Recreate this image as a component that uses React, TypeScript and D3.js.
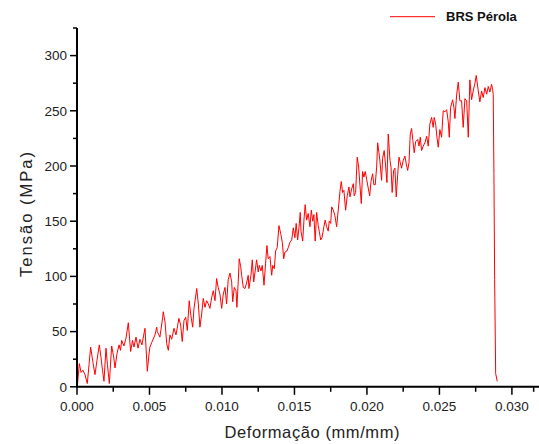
import React from "react";
import * as d3 from "d3";

const seriesName = "BRS Pérola";

const strain: number[] = [
  0.00002, 0.00016, 0.00028, 0.00041, 0.00055, 0.00071, 0.00083, 0.00094, 0.0011, 0.00124,
  0.00138, 0.00154, 0.00166, 0.00176, 0.00186, 0.002, 0.0021, 0.00223, 0.00239, 0.00252,
  0.00262, 0.00276, 0.0029, 0.003, 0.00308, 0.00324, 0.00338, 0.00354, 0.0037, 0.00383,
  0.00393, 0.00407, 0.00421, 0.00434, 0.00448, 0.00459, 0.00469, 0.00485, 0.00497, 0.00503,
  0.00515, 0.00538, 0.0055, 0.00554, 0.00572, 0.00591, 0.00595, 0.00607, 0.00619, 0.0063,
  0.00641, 0.00653, 0.00669, 0.00683, 0.00703, 0.00715, 0.00726, 0.00738, 0.0075, 0.00761,
  0.00774, 0.00784, 0.00798, 0.00807, 0.00826, 0.00837, 0.00848, 0.0086, 0.00871, 0.00883,
  0.00894, 0.00906, 0.00917, 0.00929, 0.0094, 0.00952, 0.00963, 0.00974, 0.00986, 0.00998,
  0.01009, 0.01021, 0.01032, 0.01043, 0.01055,
  0.01067, 0.01074, 0.01085, 0.01097, 0.01103, 0.01112, 0.01119, 0.01129, 0.01136, 0.01147,
  0.01159, 0.0117, 0.01181, 0.01186, 0.012, 0.01209, 0.01219, 0.01228, 0.01239, 0.0125,
  0.01257, 0.01269, 0.01278, 0.0129, 0.01301, 0.0131, 0.01319, 0.01331, 0.01343, 0.0135,
  0.01361, 0.0137, 0.01381, 0.01393, 0.01405, 0.01416, 0.01426, 0.01434, 0.01448, 0.01457,
  0.01469, 0.01481, 0.01492, 0.01503, 0.01512, 0.01522, 0.01531, 0.0154,
  0.01545, 0.01557, 0.01566, 0.01574, 0.01584, 0.01595, 0.01607, 0.01616, 0.01626, 0.01634,
  0.01643, 0.01653, 0.01664, 0.01671, 0.01681, 0.0169, 0.01703, 0.01712, 0.01722, 0.01733,
  0.0174, 0.0175, 0.01757, 0.01768, 0.01779, 0.01791, 0.01802, 0.01814, 0.01823, 0.01832,
  0.01841, 0.01853, 0.01864, 0.01876, 0.01883, 0.01894, 0.01906, 0.01912, 0.01922, 0.01933,
  0.01943, 0.01952, 0.01961, 0.0197, 0.01979, 0.01988, 0.01998, 0.02009, 0.02019, 0.02028,
  0.02039, 0.02048, 0.02057, 0.02067, 0.02074,
  0.02083, 0.0209, 0.02101, 0.02108, 0.02119, 0.02129, 0.02138, 0.02147, 0.02159, 0.02166,
  0.02174, 0.02184, 0.02193, 0.02202, 0.02212, 0.02221, 0.0223, 0.02239, 0.0225, 0.02262,
  0.02271, 0.02281, 0.0229, 0.02299, 0.02308, 0.02317, 0.02326, 0.02336, 0.0235, 0.02359,
  0.02368, 0.02377, 0.02388, 0.024, 0.02412, 0.02423, 0.02434, 0.02446, 0.02457, 0.02464,
  0.02474, 0.02483, 0.02492, 0.02503,
  0.02515, 0.02526, 0.02538, 0.0255, 0.02561, 0.02568, 0.02577, 0.02591, 0.026, 0.02607,
  0.02619, 0.0263, 0.02641, 0.02653, 0.02664, 0.02676, 0.02688, 0.02699, 0.0271, 0.02722,
  0.02733, 0.02745, 0.02754, 0.02768, 0.02779, 0.02791, 0.02802, 0.02814, 0.02826, 0.02837,
  0.02848, 0.0286, 0.02867, 0.02871, 0.02876, 0.02881, 0.02888, 0.02899,
];

const stress: number[] = [
  0, 21, 13, 15, 11, 3, 20, 36, 22, 11,
  24, 38, 26, 15, 5, 35, 20, 3, 37, 28,
  17, 30, 38, 33, 42, 37, 44, 58, 32, 42,
  36, 45, 35, 43, 38, 46, 53, 14, 30, 36,
  40, 47, 54, 50, 45, 63, 68, 59, 39, 33,
  47, 43, 53, 47, 62, 56, 41, 60, 63, 51,
  78, 66, 54, 71, 89, 75, 54, 66, 80, 72,
  78, 75, 71, 81, 87, 78, 98, 90, 84, 71,
  84, 90, 75, 97, 103,
  95, 77, 90, 87, 72, 95, 116, 109, 101, 90,
  89, 94, 101, 89, 101, 115, 95, 104, 115, 104,
  110, 105, 110, 92, 112, 128, 116, 118, 101, 110,
  107, 123, 126, 146, 139, 131, 116, 122, 123, 126,
  131, 133, 144, 135, 148, 133, 144, 158,
  141, 132, 152, 165, 151, 157, 145, 160, 150, 156,
  132, 158, 146, 141, 133, 135, 145, 151, 145, 141,
  150, 148, 163, 160, 155, 145, 160, 177, 186, 176,
  178, 160, 173, 181, 172, 179, 184, 173, 176, 208,
  199, 182, 166, 195, 190, 195, 188, 180, 173, 186,
  193, 183, 183, 199, 221,
  212, 204, 187, 207, 214, 200, 185, 229, 205, 199,
  176, 196, 198, 172, 192, 208, 203, 198, 205, 209,
  202, 196, 203, 229, 234, 223, 212, 222, 224, 218,
  226, 214, 218, 221, 227, 218, 238, 244, 235, 244,
  238, 226, 217, 233,
  226, 250, 249, 251, 240, 226, 253, 260, 253, 243,
  265, 276, 259, 259, 235, 261, 259, 226, 278, 260,
  268, 275, 282, 268, 258, 268, 262, 271, 265, 272,
  267, 274, 269, 265, 193, 97, 12, 5,
];

const xTicks = [0, 0.005, 0.01, 0.015, 0.02, 0.025, 0.03];
const xMinorTicks = [0.0025, 0.0075, 0.0125, 0.0175, 0.0225, 0.0275, 0.0315];
const yTicks = [0, 50, 100, 150, 200, 250, 300];
const yMinorTicks = [25, 75, 125, 175, 225, 275, 325];

const xTitle = "Deformação (mm/mm)";
const yTitle = "Tensão (MPa)";

const W = 539;
const H = 444;
const left = 77;
const right = 538;
const bottom = 386.8;
const top = 28;

export default function App() {
  const x = d3.scaleLinear().domain([0, 0.0318]).range([left, right]);
  const y = d3.scaleLinear().domain([0, 325]).range([bottom, top]);
  const pts = strain.map((s, i) => [s, stress[i]] as [number, number]);
  const line = d3
    .line<[number, number]>()
    .x((d) => x(d[0]))
    .y((d) => y(d[1]));
  const font = "'Liberation Sans', Arial, sans-serif";
  const tickColor = "#222";
  return (
    <svg
      width={W}
      height={H}
      style={{ position: "absolute", left: 0, top: 0, background: "#fff" }}
      fontFamily={font}
    >
      <rect x={0} y={0} width={W} height={H} fill="#fff" />
      <path d={line(pts) || ""} fill="none" stroke="#ff0000" strokeWidth={1} strokeLinejoin="round" />
      {/* axes */}
      <line x1={left} x2={left} y1={top} y2={bottom + 1} stroke="#000" strokeWidth={2} />
      <line x1={left - 1} x2={W} y1={bottom} y2={bottom} stroke="#000" strokeWidth={2} />
      {yTicks.map((t) => (
        <g key={"y" + t}>
          <line x1={left - 7} x2={left} y1={y(t)} y2={y(t)} stroke="#000" strokeWidth={1.5} />
          <text x={left - 10} y={y(t)} dy="0.36em" textAnchor="end" fontSize={13.5} fill={tickColor}>
            {t}
          </text>
        </g>
      ))}
      {yMinorTicks.map((t) => (
        <line key={"ym" + t} x1={left - 4} x2={left} y1={y(t)} y2={y(t)} stroke="#000" strokeWidth={1.5} />
      ))}
      {xTicks.map((t) => (
        <g key={"x" + t}>
          <line x1={x(t)} x2={x(t)} y1={bottom} y2={bottom + 8} stroke="#000" strokeWidth={1.5} />
          <text x={x(t)} y={410.5} textAnchor="middle" fontSize={13.5} fill={tickColor}>
            {d3.format(".3f")(t)}
          </text>
        </g>
      ))}
      {xMinorTicks.map((t) => (
        <line key={"xm" + t} x1={x(t)} x2={x(t)} y1={bottom} y2={bottom + 5} stroke="#000" strokeWidth={1.5} />
      ))}
      <text
        x={312}
        y={438}
        textAnchor="middle"
        fontSize={16.5}
        fill={tickColor}
        textLength={175}
        lengthAdjust="spacing"
      >
        {xTitle}
      </text>
      <text
        transform={`translate(31.5, 214.5) rotate(-90)`}
        textAnchor="middle"
        fontSize={16.5}
        fill={tickColor}
        textLength={125}
        lengthAdjust="spacing"
      >
        {yTitle}
      </text>
      {/* legend */}
      <line x1={390} x2={435} y1={16.7} y2={16.7} stroke="#ff0000" strokeWidth={1} />
      <text x={446} y={20.8} fontSize={13} fontWeight="bold" fill="#111">
        {seriesName}
      </text>
    </svg>
  );
}
